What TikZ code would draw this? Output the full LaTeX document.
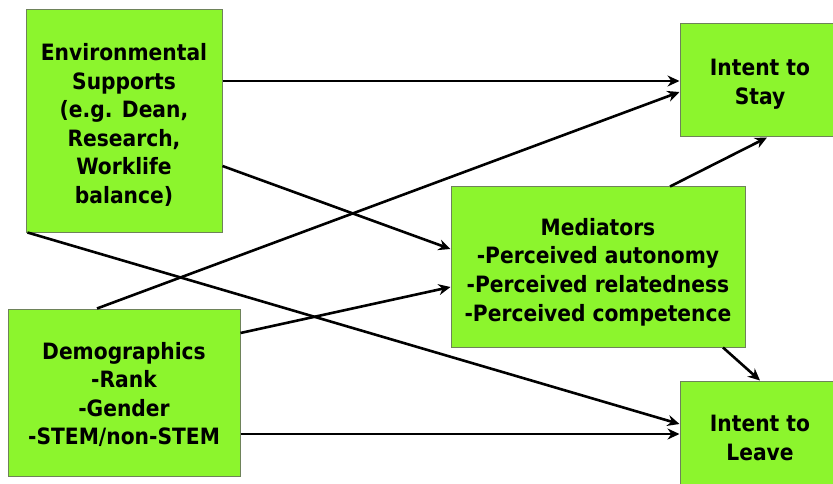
\documentclass[tikz,border=0pt]{standalone}
\usepackage{fontspec}
\setmainfont{DejaVu Sans Condensed}
\usetikzlibrary{arrows.meta,calc}
\definecolor{boxgreen}{RGB}{140,245,45}
\definecolor{boxedge}{RGB}{110,130,90}
\begin{document}
\begin{tikzpicture}[x=1pt,y=-1pt,
  box/.style={draw=boxedge,line width=1pt,fill=boxgreen,inner sep=0pt},
  boxtext/.style={align=center,inner sep=0pt,yshift=-4pt,
    font=\fontsize{22.5}{28.6}\selectfont\bfseries},
  conn/.style={line width=2.6pt,-{Stealth[length=12pt,width=11pt]}}]
\useasboundingbox (0,0) rectangle (833,484);
\clip (0,0) rectangle (833,484);
\node[box,minimum width=196pt,minimum height=222pt] (env) at (124,121) {};
\node[boxtext] (envt) at (env.center)
  {Environmental\\Supports\\(e.g. Dean,\\Research,\\Worklife\\balance)};
\node[box,minimum width=232pt,minimum height=167pt] (demo) at (124,392.5) {};
\node[boxtext,yshift=2pt] (demot) at (demo.center)
  {Demographics\\-Rank\\-Gender\\-STEM/non-STEM};
\node[box,minimum width=294pt,minimum height=160pt] (med) at (598,267) {};
\node[boxtext,yshift=-1pt] (medt) at (med.center)
  {Mediators\\-Perceived autonomy\\-Perceived relatedness\\-Perceived competence};
\node[box,minimum width=160pt,minimum height=113pt] (stay) at (760,80.5) {};
\node[boxtext] (stayt) at (stay.center) {Intent to\\Stay};
\node[box,minimum width=160pt,minimum height=112pt] (leave) at (760,437) {};
\node[boxtext,yshift=3pt] (leavet) at (leave.center) {Intent to\\Leave};
\draw[conn] (env.east |- 0,81) -- (stay.west |- 0,81);
\draw[conn] (env.east |- 0,166) -- (med.west |- 0,249);
\draw[conn] ($(env.south west)+(2,0)$) -- (leave.west |- 0,424);
\draw[conn] (demo.north -| 97,0) -- (stay.west |- 0,92);
\draw[conn] (demo.east |- 0,333) -- (med.west |- 0,287);
\draw[conn] (demo.east |- 0,434) -- (leave.west |- 0,434);
\draw[conn] (med.north -| 670,0) -- (stay.south -| 767,0);
\draw[conn] (med.south -| 723,0) -- (leave.north -| 760,0);
\end{tikzpicture}
\end{document}
